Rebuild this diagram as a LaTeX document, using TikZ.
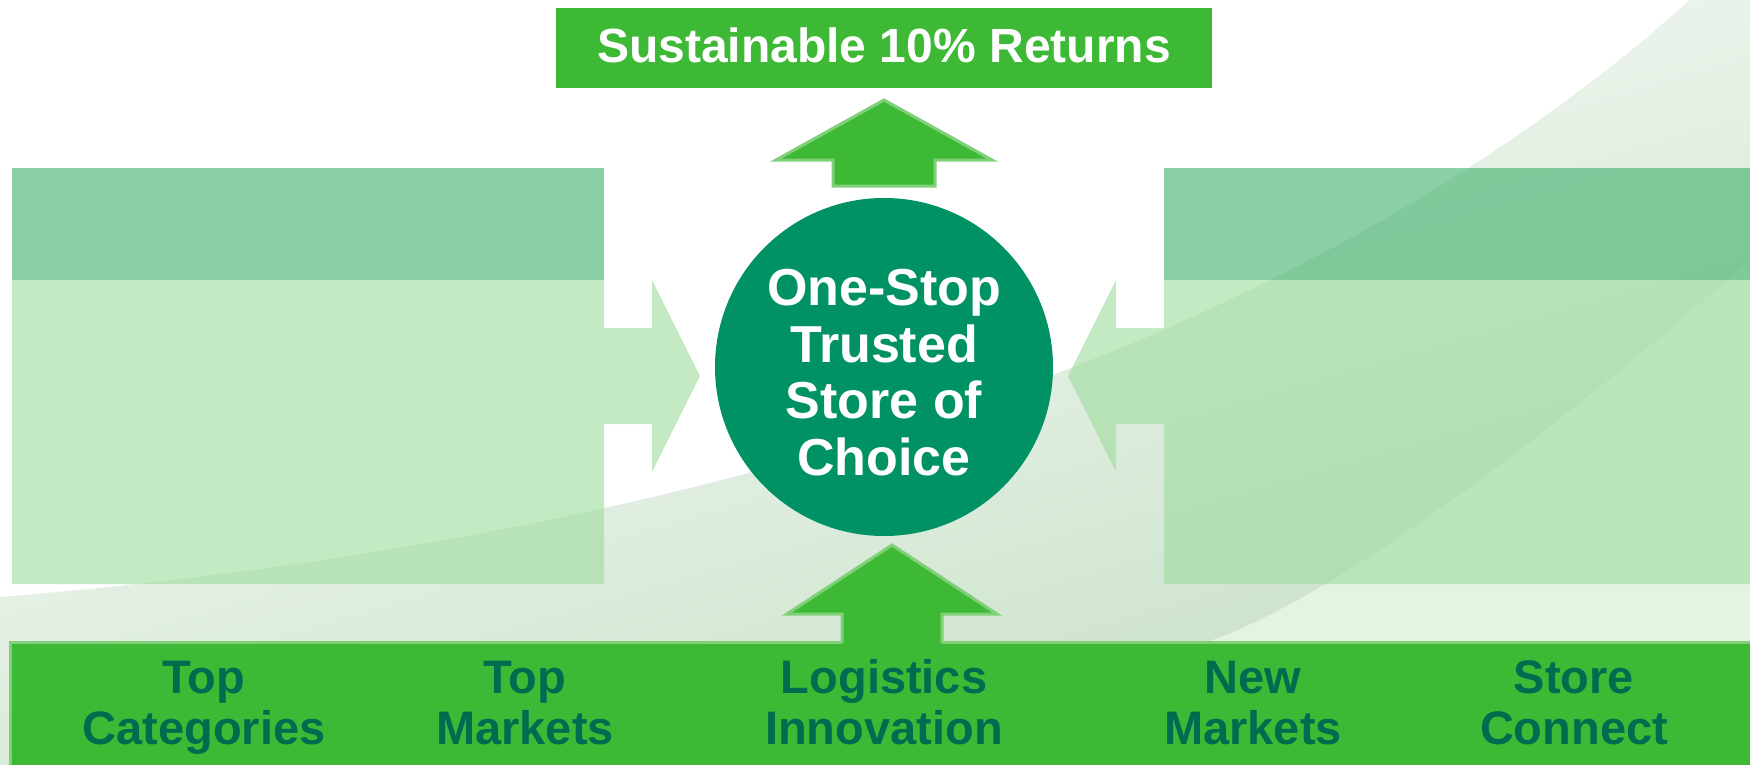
\documentclass[tikz,border=0pt]{standalone}
\usepackage{fontspec}
\setmainfont{Liberation Sans}
\definecolor{leafgreen}{RGB}{61,185,53}
\definecolor{rimgreen}{RGB}{128,208,122}
\definecolor{hubgreen}{RGB}{0,146,101}
\definecolor{inkgreen}{RGB}{0,107,79}
\definecolor{panelbody}{RGB}{157,220,157}
\definecolor{panelhead}{RGB}{62,175,107}
\definecolor{bandtop}{RGB}{255,255,255}
\definecolor{bandbot}{RGB}{198,223,198}
\definecolor{washgreen}{RGB}{228,244,226}

\begin{document}
\begin{tikzpicture}[x=1pt,y=-1pt,
    panel/.style={fill=panelbody, fill opacity=0.6},
    header/.style={fill=panelhead, fill opacity=0.6},
    uparrow/.style={fill=leafgreen, draw=rimgreen, line width=3pt},
    pillar/.style={font=\fontsize{47}{51}\selectfont\bfseries, text=inkgreen, align=center, inner sep=0pt, anchor=base},
    hubtext/.style={font=\fontsize{52}{56.5}\selectfont\bfseries, text=white, align=center, inner sep=0pt, anchor=base}]
\useasboundingbox (0,0) rectangle (1750,765);
\fill[white] (0,0) rectangle (1750,765);
\shade[top color=bandtop, bottom color=bandbot, shading angle=16] (0,597) .. controls (700,540) and (1300,350) .. (1690,0) -- (1750,0) -- (1750,260) .. controls (1620,375) and (1360,590) .. (1205,643) -- (1000,765) -- (0,765) -- cycle;
\fill[washgreen] (1750,260) .. controls (1620,375) and (1360,590) .. (1205,643) -- (1000,765) -- (1750,765) -- cycle;

\fill[panel] (12,280) -- (604,280) -- (604,328) -- (652,328) -- (652,280) -- (700,376) -- (652,472) -- (652,424) -- (604,424) -- (604,584) -- (12,584) -- cycle;
\fill[header] (12,168) rectangle (604,280);
\fill[panel] (1750,280) -- (1164,280) -- (1164,328) -- (1116,328) -- (1116,280) -- (1068,376) -- (1116,472) -- (1116,424) -- (1164,424) -- (1164,584) -- (1750,584) -- cycle;
\fill[header] (1164,168) rectangle (1750,280);

\node[circle, fill=hubgreen, minimum size=338pt, inner sep=0pt] (hub) at (884,367) {};
\node[hubtext] (hubtxt) at (884,475) {One-Stop\\Trusted\\Store of\\Choice};

\node[fill=leafgreen, minimum width=656pt, minimum height=80pt, inner sep=0pt, text=white, font=\fontsize{48}{52}\selectfont\bfseries, text height=34pt, text depth=4pt] (goal) at (884,48) {Sustainable 10\% Returns};
\filldraw[uparrow] (884,100) -- (992,160) -- (935,160) -- (935,186) -- (833,186) -- (833,160) -- (776,160) -- cycle;

\filldraw[uparrow] (10,642) rectangle (1760,775);
\fill[leafgreen] (892,545) -- (997,614) -- (942,614) -- (942,646) -- (842,646) -- (842,614) -- (787,614) -- cycle;
\draw[rimgreen, line width=3pt] (842,643) -- (842,614) -- (787,614) -- (892,545) -- (997,614) -- (942,614) -- (942,643);

\node[pillar] (cats) at (204,744) {Top\\Categories};
\node[pillar] (mkts) at (525,744) {Top\\Markets};
\node[pillar] (logi) at (884,744) {Logistics\\Innovation};
\node[pillar] (newm) at (1253,744) {New\\Markets};
\node[pillar] (conn) at (1574,744) {Store\\Connect};
\end{tikzpicture}
\end{document}
